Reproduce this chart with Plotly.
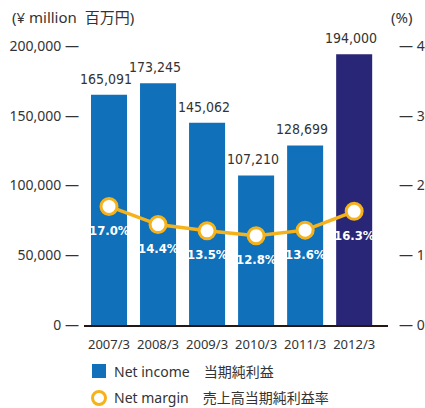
import plotly.graph_objects as go

categories = ["2007/3", "2008/3", "2009/3", "2010/3", "2011/3", "2012/3"]
net_income = [165091, 173245, 145062, 107210, 128699, 194000]
net_margin = [17.0, 14.4, 13.5, 12.8, 13.6, 16.3]
left_ticks = [0, 50000, 100000, 150000, 200000]
left_ticktext = ["0 —", "50,000 —", "100,000 —", "150,000 —", "200,000 —"]
right_ticks = [0, 10, 20, 30, 40]
right_ticktext = ["— 0", "— 10", "— 20", "— 30", "— 40"]

BLUE = "#1071BA"
NAVY = "#2A2677"
ORANGE = "#F6B21B"
TXT = "#333333"
FONT = "Noto Sans, Noto Sans CJK JP, sans-serif"
NARROW = "DejaVu Sans Condensed, Liberation Sans Narrow, sans-serif"

W, H = 425, 408
L, R, T, B = 84, 37, 46, 83
pw, ph = W - L - R, H - T - B


def px(xp):
    return (xp - L) / pw


def py(yp):
    return (H - B - yp) / ph


bar_colors = [BLUE] * (len(categories) - 1) + [NAVY]
xs = list(range(len(categories)))

fig = go.Figure()
fig.add_trace(go.Bar(
    x=xs, y=net_income, marker=dict(color=bar_colors, line=dict(width=0)),
    showlegend=False, hoverinfo="skip"))
fig.add_trace(go.Scatter(
    x=xs, y=net_margin, yaxis="y2", mode="lines+markers",
    line=dict(color=ORANGE, width=3.5),
    marker=dict(size=16, color="white", line=dict(color=ORANGE, width=3)),
    showlegend=False, hoverinfo="skip"))

ann = []
for i, v in enumerate(net_income):
    ann.append(dict(x=i, y=v, xref="x", yref="y", text=f"{v:,}", showarrow=False,
                    yanchor="bottom", yshift=6, xshift=-3,
                    font=dict(family=NARROW, size=14, color=TXT)))
for i, v in enumerate(net_margin):
    ann.append(dict(x=i, y=v, xref="x", yref="y2", text=f"{v:.1f}%", showarrow=False,
                    yanchor="middle", yshift=-24,
                    font=dict(family=NARROW, size=13, color="white", weight="bold")))

ann.append(dict(x=px(10), y=py(17), xref="paper", yref="paper", xanchor="left", yanchor="middle",
                text="(¥ million  百万円)", showarrow=False, font=dict(family=FONT, size=15, color=TXT)))
ann.append(dict(x=px(389), y=py(17), xref="paper", yref="paper", xanchor="left", yanchor="middle",
                text="(%)", showarrow=False, font=dict(family=FONT, size=15, color=TXT)))
ann.append(dict(x=px(112), y=py(371), xref="paper", yref="paper", xanchor="left", yanchor="middle",
                text="Net income　当期純利益", showarrow=False, font=dict(family=FONT, size=14, color=TXT)))
ann.append(dict(x=px(112), y=py(397), xref="paper", yref="paper", xanchor="left", yanchor="middle",
                text="Net margin　売上高当期純利益率", showarrow=False, font=dict(family=FONT, size=14, color=TXT)))

shapes = [
    dict(type="rect", xref="paper", yref="paper", x0=px(92), x1=px(106), y0=py(378), y1=py(364),
         fillcolor=BLUE, line=dict(width=0)),
    dict(type="circle", xref="paper", yref="paper", x0=px(92.5), x1=px(105.5), y0=py(404.5), y1=py(391.5),
         fillcolor="white", line=dict(color=ORANGE, width=3)),
]

fig.update_layout(
    width=W, height=H, margin=dict(l=L, r=R, t=T, b=B, pad=0, autoexpand=False),
    paper_bgcolor="white", plot_bgcolor="white",
    bargap=0.265,
    font=dict(family=FONT, size=14, color=TXT),
    xaxis=dict(range=[-0.51, 5.69], tickvals=xs, ticktext=categories, showgrid=False,
               zeroline=False, showline=True, linecolor="#231815", linewidth=1.5,
               ticks="", ticklabelstandoff=7, tickfont=dict(size=13, color=TXT), automargin=False),
    yaxis=dict(range=[0, 200000], tickvals=left_ticks, ticktext=left_ticktext, showgrid=False,
               zeroline=False, showline=False, ticks="", ticklabelstandoff=4, automargin=False,
               tickfont=dict(size=14, color=TXT)),
    yaxis2=dict(range=[0, 40], overlaying="y", side="right", tickvals=right_ticks,
                ticktext=right_ticktext, showgrid=False, zeroline=False, showline=False,
                ticks="", ticklabelstandoff=10, automargin=False, tickfont=dict(size=14, color=TXT)),
    annotations=ann, shapes=shapes,
)

fig.write_html("out.html", config={"displayModeBar": False},
               post_script="document.body.style.margin='0';document.body.style.overflow='hidden';")
